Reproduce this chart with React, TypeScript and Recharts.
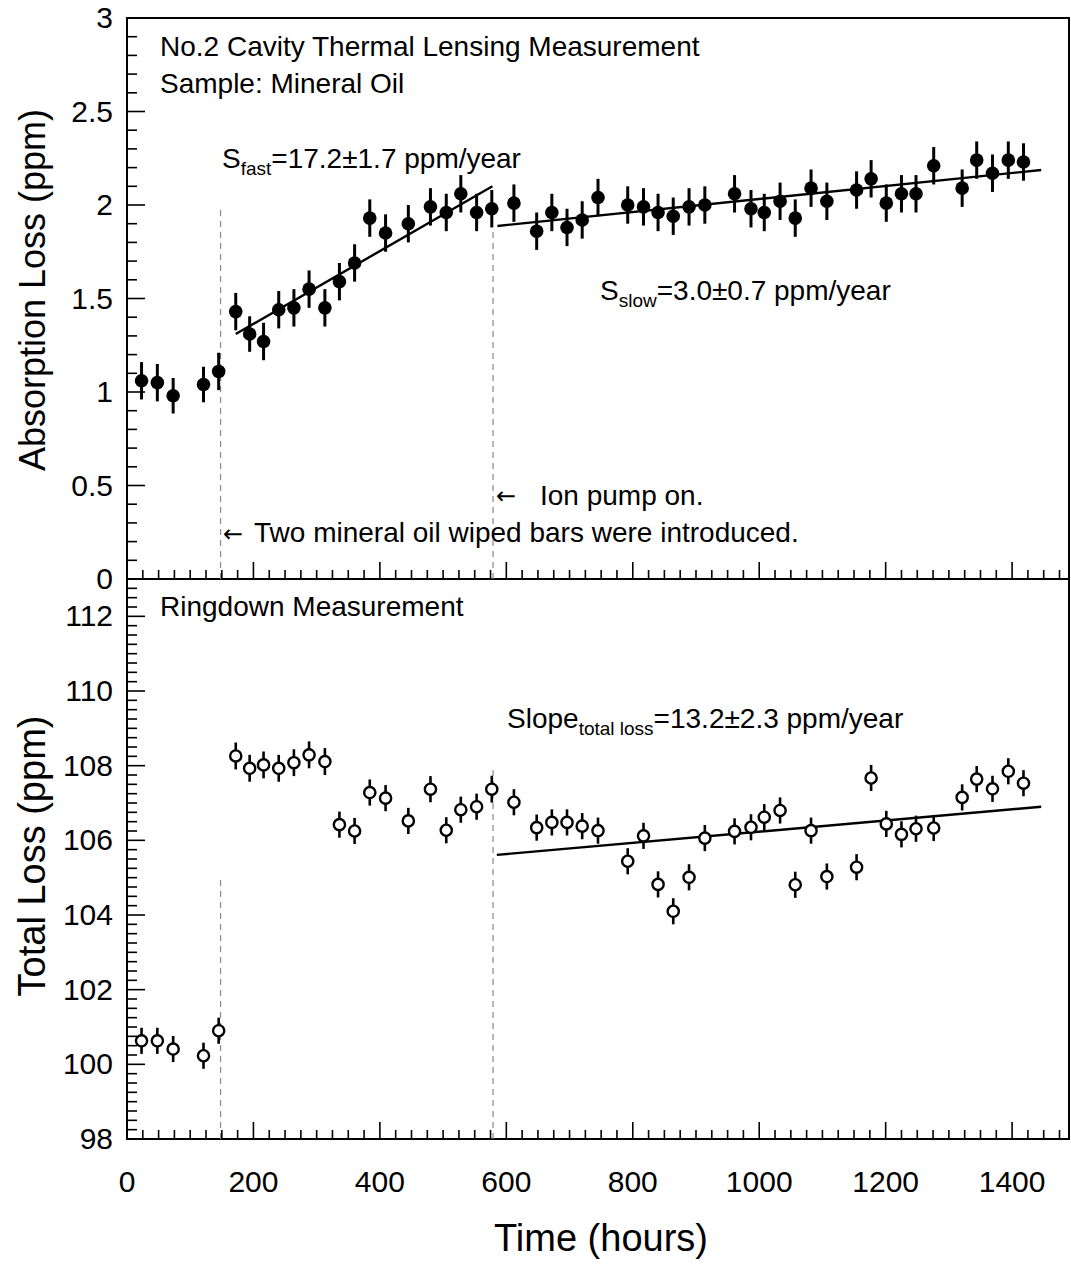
import React from "react";
import {
  ScatterChart, Scatter, XAxis, YAxis, ErrorBar, ReferenceLine, ReferenceArea,
} from "recharts";

const FONT = "'Liberation Sans', Arial, Helvetica, sans-serif";

// measurement times (hours), shared by both panels
const hours = [
  23, 48, 73, 121, 145, 172, 194, 216, 240, 264, 288, 313, 336, 360, 384, 409,
  445, 480, 505, 528, 553, 577, 612, 648, 672, 696, 720, 745, 792, 817, 840,
  864, 889, 914, 961, 987, 1008, 1033, 1057, 1082, 1107, 1154, 1177, 1201,
  1225, 1248, 1276, 1321, 1344, 1369, 1394, 1418,
];

// thermal lensing absorption loss (ppm)
const absLoss = [
  1.06, 1.05, 0.98, 1.04, 1.11, 1.43, 1.31, 1.27, 1.44, 1.45, 1.55, 1.45,
  1.59, 1.69, 1.93, 1.85, 1.9, 1.99, 1.96, 2.06, 1.96, 1.98, 2.01, 1.86,
  1.96, 1.88, 1.92, 2.04, 2.0, 1.99, 1.96, 1.94, 1.99, 2.0, 2.06, 1.98,
  1.96, 2.02, 1.93, 2.09, 2.02, 2.08, 2.14, 2.01, 2.06, 2.06, 2.21, 2.09,
  2.24, 2.17, 2.24, 2.23,
];
const absErr = [
  0.1, 0.1, 0.095, 0.095, 0.1, 0.1, 0.095, 0.1, 0.1, 0.1, 0.1, 0.1,
  0.1, 0.1, 0.1, 0.1, 0.1, 0.1, 0.1, 0.1, 0.1, 0.1, 0.1, 0.1,
  0.1, 0.1, 0.1, 0.1, 0.1, 0.1, 0.1, 0.1, 0.1, 0.1, 0.1, 0.1,
  0.1, 0.1, 0.1, 0.1, 0.1, 0.1, 0.1, 0.1, 0.1, 0.1, 0.1, 0.1,
  0.1, 0.1, 0.1, 0.1,
];

// ringdown total loss (ppm)
const totLoss = [
  100.63, 100.63, 100.41, 100.23, 100.9, 108.26, 107.93, 108.02, 107.93,
  108.08, 108.29, 108.11, 106.42, 106.25, 107.28, 107.13, 106.52, 107.37,
  106.27, 106.82, 106.9, 107.37, 107.02, 106.34, 106.48, 106.48, 106.38,
  106.26, 105.44, 106.12, 104.82, 104.1, 105.01, 106.06, 106.24, 106.35,
  106.62, 106.8, 104.81, 106.26, 105.03, 105.28, 107.67, 106.44, 106.16,
  106.31, 106.33, 107.15, 107.64, 107.38, 107.85, 107.53,
];
const totErr = [
  0.35, 0.35, 0.35, 0.35, 0.35, 0.36, 0.36, 0.36, 0.36, 0.36, 0.36, 0.36,
  0.35, 0.35, 0.35, 0.35, 0.35, 0.35, 0.35, 0.35, 0.35, 0.36, 0.35, 0.35,
  0.35, 0.35, 0.35, 0.35, 0.35, 0.35, 0.35, 0.35, 0.35, 0.35, 0.35, 0.35,
  0.35, 0.35, 0.35, 0.35, 0.35, 0.35, 0.35, 0.35, 0.35, 0.35, 0.35, 0.35,
  0.35, 0.35, 0.35, 0.35,
];

// fitted lines (end points)
const fastFit = [{ t: 172, v: 1.31 }, { t: 578, v: 2.1 }];
const slowFit = [{ t: 586, v: 1.888 }, { t: 1446, v: 2.187 }];
const totalFit = [{ t: 585, v: 105.61 }, { t: 1446, v: 106.9 }];

// axes
const X_MAX = 1490;
const xMajor = [0, 200, 400, 600, 800, 1000, 1200, 1400];
const xTicks = Array.from({ length: 60 }, (_, i) => i * 25);
const absMajor = [0, 0.5, 1, 1.5, 2, 2.5, 3];
const absTicks = Array.from({ length: 31 }, (_, i) => i / 10);
const totMajor = [98, 100, 102, 104, 106, 108, 110, 112];
const totTicks = Array.from({ length: 61 }, (_, i) => 98 + i * 0.25);

const absData = hours.map((t, i) => ({ t, v: absLoss[i], err: absErr[i] }));
const totData = hours.map((t, i) => ({ t, v: totLoss[i], err: totErr[i] }));

const XTick = ({ x, y, payload, labels }: any) => {
  const major = xMajor.includes(payload.value);
  return (
    <g>
      <line x1={x} x2={x} y1={y} y2={y - (major ? 17 : 9)} stroke="#000" strokeWidth={1.6} />
      {labels && major && (
        <text x={x} y={y + 53} textAnchor="middle" fontSize={30} fontFamily={FONT} fill="#000">
          {payload.value}
        </text>
      )}
    </g>
  );
};

const YTick = ({ x, y, payload, major }: any) => {
  const isMajor = major.includes(payload.value);
  return (
    <g>
      <line x1={x} x2={x + (isMajor ? 18 : 10)} y1={y} y2={y} stroke="#000" strokeWidth={1.6} />
      {isMajor && (
        <text x={x - 14} y={y + 10} textAnchor="end" fontSize={30} fontFamily={FONT} fill="#000">
          {payload.value}
        </text>
      )}
    </g>
  );
};

const Dot = (p: any) => <circle cx={p.cx} cy={p.cy} r={6.8} fill="#000" />;
const Ring = (p: any) => (
  <circle cx={p.cx} cy={p.cy} r={5.6} fill="#fff" stroke="#000" strokeWidth={2.4} />
);
const NoShape = () => <g />;

const dash = { stroke: "#888", strokeWidth: 1.2, strokeDasharray: "6 5" };
const ARROW = "'DejaVu Sans', sans-serif";

export default function App() {
  return (
    <div style={{ position: "absolute", left: 0, top: 0, width: 1071, height: 1264, background: "#fff" }}>
      <div style={{ position: "absolute", left: 0, top: 0 }}>
        <ScatterChart width={1071} height={600} margin={{ top: 18, right: 2, bottom: 20, left: 67 }}>
          <XAxis
            type="number" dataKey="t" domain={[0, X_MAX]} ticks={xTicks} interval={0}
            height={1} tickSize={0} tickMargin={0} axisLine={false} tickLine={false}
            tick={(p: any) => <XTick {...p} labels={false} />}
          />
          <YAxis
            type="number" dataKey="v" domain={[0, 3]} ticks={absTicks} interval={0}
            width={60} tickSize={0} tickMargin={0} axisLine={false} tickLine={false}
            tick={(p: any) => <YTick {...p} major={absMajor} />}
          />
          <ReferenceArea x1={0} x2={X_MAX} y1={0} y2={3} fill="none" fillOpacity={0} stroke="#000" strokeWidth={2} />
          <ReferenceLine segment={[{ x: 148, y: 0 }, { x: 148, y: 2 }]} {...dash} />
          <ReferenceLine segment={[{ x: 579, y: 0 }, { x: 579, y: 1.88 }]} {...dash} />
          <Scatter data={absData} shape={Dot} isAnimationActive={false}>
            <ErrorBar dataKey="err" direction="y" width={0} stroke="#000" strokeWidth={3} />
          </Scatter>
          <Scatter data={fastFit} shape={NoShape} line={{ stroke: "#000", strokeWidth: 2.4 }} isAnimationActive={false} />
          <Scatter data={slowFit} shape={NoShape} line={{ stroke: "#000", strokeWidth: 2.4 }} isAnimationActive={false} />
        </ScatterChart>
      </div>

      <div style={{ position: "absolute", left: 0, top: 579 }}>
        <ScatterChart width={1071} height={685} margin={{ top: 0, right: 2, bottom: 124, left: 67 }}>
          <XAxis
            type="number" dataKey="t" domain={[0, X_MAX]} ticks={xTicks} interval={0}
            height={1} tickSize={0} tickMargin={0} axisLine={false} tickLine={false}
            tick={(p: any) => <XTick {...p} labels />}
          />
          <YAxis
            type="number" dataKey="v" domain={[98, 113]} ticks={totTicks} interval={0}
            width={60} tickSize={0} tickMargin={0} axisLine={false} tickLine={false}
            tick={(p: any) => <YTick {...p} major={totMajor} />}
          />
          <ReferenceArea x1={0} x2={X_MAX} y1={98} y2={113} fill="none" fillOpacity={0} stroke="#000" strokeWidth={2} />
          <ReferenceLine segment={[{ x: 148, y: 98 }, { x: 148, y: 105 }]} {...dash} />
          <ReferenceLine segment={[{ x: 579, y: 98 }, { x: 579, y: 108 }]} {...dash} />
          <Scatter data={totalFit} shape={NoShape} line={{ stroke: "#000", strokeWidth: 2.4 }} isAnimationActive={false} />
          <Scatter data={totData} shape={Ring} isAnimationActive={false}>
            <ErrorBar dataKey="err" direction="y" width={0} stroke="#000" strokeWidth={2.6} />
          </Scatter>
        </ScatterChart>
      </div>

      <svg width={1071} height={1264} style={{ position: "absolute", left: 0, top: 0, pointerEvents: "none" }}
        fontFamily={FONT} fill="#000">
        <text x={160} y={56} fontSize={28}>No.2 Cavity Thermal Lensing Measurement</text>
        <text x={160} y={93} fontSize={28}>Sample: Mineral Oil</text>
        <text x={222} y={168} fontSize={28}>
          S<tspan fontSize={19} dy={7}>fast</tspan><tspan dy={-7}>=17.2±1.7 ppm/year</tspan>
        </text>
        <text x={600} y={300} fontSize={28}>
          S<tspan fontSize={19} dy={7}>slow</tspan><tspan dy={-7}>=3.0±0.7 ppm/year</tspan>
        </text>
        <text x={496} y={504} fontSize={24} fontFamily={ARROW}>←</text>
        <text x={540} y={505} fontSize={28}>Ion pump on.</text>
        <text x={223} y={542} fontSize={24} fontFamily={ARROW}>←</text>
        <text x={254} y={542} fontSize={28}>Two mineral oil wiped bars were introduced.</text>
        <text x={160} y={616} fontSize={28}>Ringdown Measurement</text>
        <text x={507} y={728} fontSize={28}>
          Slope<tspan fontSize={19} dy={7}>total loss</tspan><tspan dy={-7}>=13.2±2.3 ppm/year</tspan>
        </text>
        <text x={601} y={1251} fontSize={38} textAnchor="middle">Time (hours)</text>
        <text transform="translate(45,290) rotate(-90)" fontSize={36} textAnchor="middle">Absorption Loss (ppm)</text>
        <text transform="translate(45,856) rotate(-90)" fontSize={38} textAnchor="middle">Total Loss (ppm)</text>
      </svg>
    </div>
  );
}
